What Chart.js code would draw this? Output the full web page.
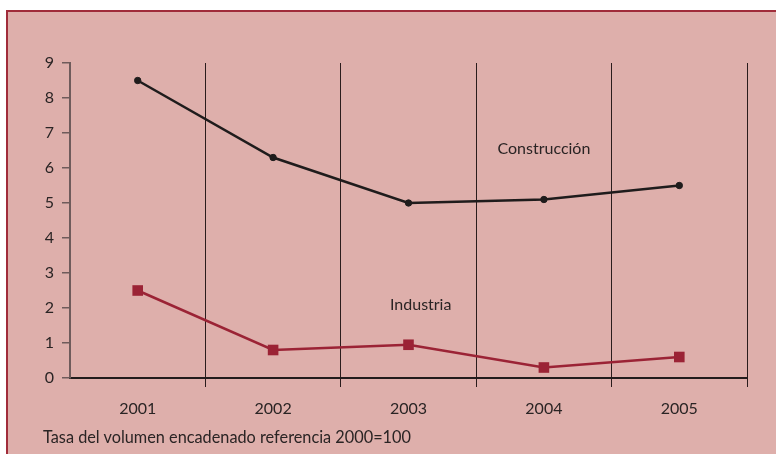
<!DOCTYPE html>
<html>
<head>
<meta charset="utf-8">
<script src="https://cdn.jsdelivr.net/npm/chart.js@4/dist/chart.umd.min.js"></script>
<style>
  html, body { margin:0; padding:0; background:#ffffff; width:776px; height:454px; overflow:hidden; }
  #wrap { position:absolute; left:0; top:0; width:776px; height:454px; }
  #note { position:absolute; left:43px; top:427px; font-family:'Lato','Open Sans',sans-serif; font-size:16.3px; color:#2a2424; white-space:nowrap; }
</style>
</head>
<body>
<div id="wrap"><canvas id="c" width="776" height="454"></canvas></div>
<div id="note">Tasa del volumen encadenado referencia 2000=100</div>
<script>
const categories = ['2001', '2002', '2003', '2004', '2005'];
const construccion = [8.5, 6.3, 5.0, 5.1, 5.5];
const industria = [2.5, 0.8, 0.95, 0.3, 0.6];
const yTicks = [0, 1, 2, 3, 4, 5, 6, 7, 8, 9];
const seriesLabels = ['Construcción', 'Industria'];
const labelAnchors = [{x: 3.0, y: 6.55}, {x: 2.09, y: 2.08}];

const FONT = "'Lato','Open Sans',sans-serif";

const framePlugin = {
  id: 'frame',
  beforeDraw(chart) {
    const ctx = chart.ctx;
    const W = chart.width, H = chart.height;
    ctx.save();
    ctx.fillStyle = '#ffffff';
    ctx.fillRect(0, 0, W, H);
    ctx.fillStyle = '#deafab';
    ctx.fillRect(6, 10, W - 6, H - 10);
    ctx.fillStyle = '#a02c3a';
    ctx.fillRect(6, 10, W - 6, 2);
    ctx.fillRect(6, 10, 2, H - 10);
    ctx.restore();
  }
};

const labelPlugin = {
  id: 'seriesLabels',
  afterDatasetsDraw(chart) {
    const {ctx, scales} = chart;
    ctx.save();
    ctx.font = '16px ' + FONT;
    ctx.fillStyle = '#2a2424';
    ctx.textAlign = 'center';
    ctx.textBaseline = 'middle';
    seriesLabels.forEach((t, i) => {
      const a = labelAnchors[i];
      ctx.fillText(t, scales.x.getPixelForValue(a.x), scales.y.getPixelForValue(a.y));
    });
    ctx.restore();
  }
};

new Chart(document.getElementById('c'), {
  type: 'line',
  data: {
    labels: categories,
    datasets: [
      { label: seriesLabels[0], data: construccion, borderColor: '#1f1c1c', backgroundColor: '#1f1c1c',
        borderWidth: 2.5, pointRadius: 3.2, pointBorderWidth: 1, pointStyle: 'circle', tension: 0, clip: false },
      { label: seriesLabels[1], data: industria, borderColor: '#9b2335', backgroundColor: '#9b2335',
        borderWidth: 2.5, pointRadius: 7.5, pointBorderWidth: 0, pointStyle: 'rect', tension: 0, clip: false }
    ]
  },
  options: {
    responsive: false,
    animation: false,
    devicePixelRatio: 1,
    layout: { padding: { left: 0, top: 63, right: 29, bottom: 0 } },
    plugins: { legend: { display: false }, tooltip: { enabled: false } },
    scales: {
      x: {
        type: 'category',
        offset: true,
        grid: {
          offset: true,
          drawOnChartArea: true,
          drawTicks: true,
          tickLength: 9,
          lineWidth: (c) => (c.index === categories.length ? 2 : 1),
          color: (c) => c.index === 0 ? 'rgba(0,0,0,0)' : (c.index === categories.length ? '#8c7272' : '#2a1c1c')
        },
        border: { display: true, color: '#221c1c', width: 2 },
        ticks: { font: { family: FONT, size: 16 }, color: '#2a2424', padding: 12 },
        afterFit: (s) => { s.height = 76; }
      },
      y: {
        min: 0, max: 9,
        afterBuildTicks: (s) => { s.ticks = yTicks.map(v => ({value: v})); },
        grid: { drawOnChartArea: false, drawTicks: true, tickLength: 8, color: '#6f5b5b', lineWidth: 1.5 },
        border: { display: true, color: '#6f5b5b', width: 2 },
        ticks: { font: { family: FONT, size: 16 }, color: '#2a2424', padding: 8 },
        afterFit: (s) => { s.width = 70; }
      }
    }
  },
  plugins: [framePlugin, labelPlugin]
});
</script>
</body>
</html>
